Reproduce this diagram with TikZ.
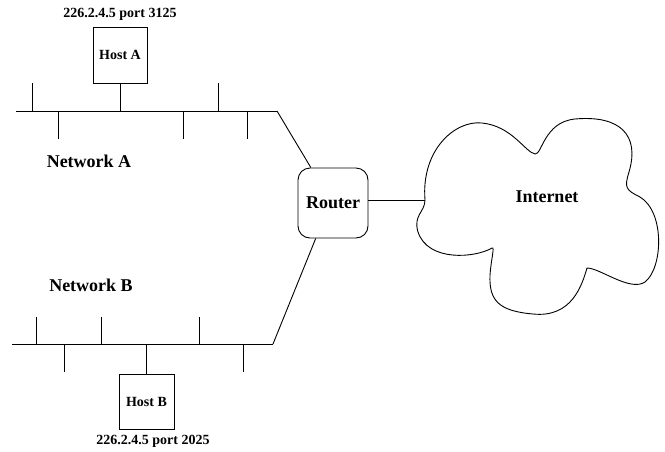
\documentclass[tikz,border=0pt]{standalone}
\usepackage{fontspec}
\setmainfont{Liberation Serif}
\begin{document}
\begin{tikzpicture}[x=1pt,y=-1pt,line width=0.9pt,
  bigtxt/.style={font=\fontsize{18}{20}\selectfont\bfseries},
  smalltxt/.style={font=\fontsize{14}{16}\selectfont\bfseries},
  hostbox/.style={draw,rectangle,inner sep=0pt,smalltxt},
  routerbox/.style={draw,rectangle,rounded corners=12pt,inner sep=0pt,bigtxt,minimum width=70pt,minimum height=70pt}]
\useasboundingbox (0,0) rectangle (665,451);

% labels
\node[smalltxt] (ipA) at (120,14) {226.2.4.5 port 3125};
\node[smalltxt] (ipB) at (153,441) {226.2.4.5 port 2025};
\node[bigtxt] (netA) at (89,161) {Network A};
\node[bigtxt] (netB) at (91,285) {Network B};

% hosts and router
\node[hostbox,minimum width=54pt,minimum height=56pt] (hostA) at (120,55) {Host A};
\node[hostbox,minimum width=55pt,minimum height=55pt] (hostB) at (146.5,401.5) {Host B};
\node[routerbox] (router) at (333,203) {Router};

% network A bus
\coordinate (aL) at (16,111);
\coordinate (aR) at (277,111);
\draw (aL) -- (aR);
\draw (hostA.south) -- (hostA.south |- aL);
\foreach \x [count=\i] in {32,218} {
  \coordinate (au\i) at (\x,111);
  \draw (au\i) -- ++(0,-28);
}
\foreach \x [count=\i] in {58,183,247} {
  \coordinate (ad\i) at (\x,111);
  \draw (ad\i) -- ++(0,28);
}

% network B bus
\coordinate (bL) at (12,344);
\coordinate (bR) at (273,344);
\draw (bL) -- (bR);
\draw (hostB.north) -- (hostB.north |- bL);
\foreach \x [count=\i] in {36,101,199} {
  \coordinate (bu\i) at (\x,344);
  \draw (bu\i) -- ++(0,-27);
}
\foreach \x [count=\i] in {64,243} {
  \coordinate (bd\i) at (\x,344);
  \draw (bd\i) -- ++(0,28);
}

% router links
\draw (aR) -- (router.122);
\draw (bR) -- (router.244);

% cloud
\coordinate (cl) at (425,200);
\draw (cl)
  .. controls (421,150) and (455,120) .. (482,123)
  .. controls (512,126) and (525,152) .. (535,154)
  .. controls (542,155) and (544,122) .. (575,119)
  .. controls (620,115) and (640,135) .. (629,172)
  .. controls (624,188) and (626,190) .. (640,197)
  .. controls (665,212) and (663,268) .. (645,282)
  .. controls (630,292) and (600,268) .. (587,268)
  .. controls (582,285) and (572,318) .. (533,314)
  .. controls (498,311) and (489,300) .. (490,275)
  .. controls (491,260) and (495,246) .. (492,248)
  .. controls (475,258) and (428,262) .. (418,232)
  .. controls (413,215) and (425,212) .. (cl) -- cycle;
\node[bigtxt] (internet) at (547,197) {Internet};
\draw (cl) -- (cl -| router.east);
\end{tikzpicture}
\end{document}
